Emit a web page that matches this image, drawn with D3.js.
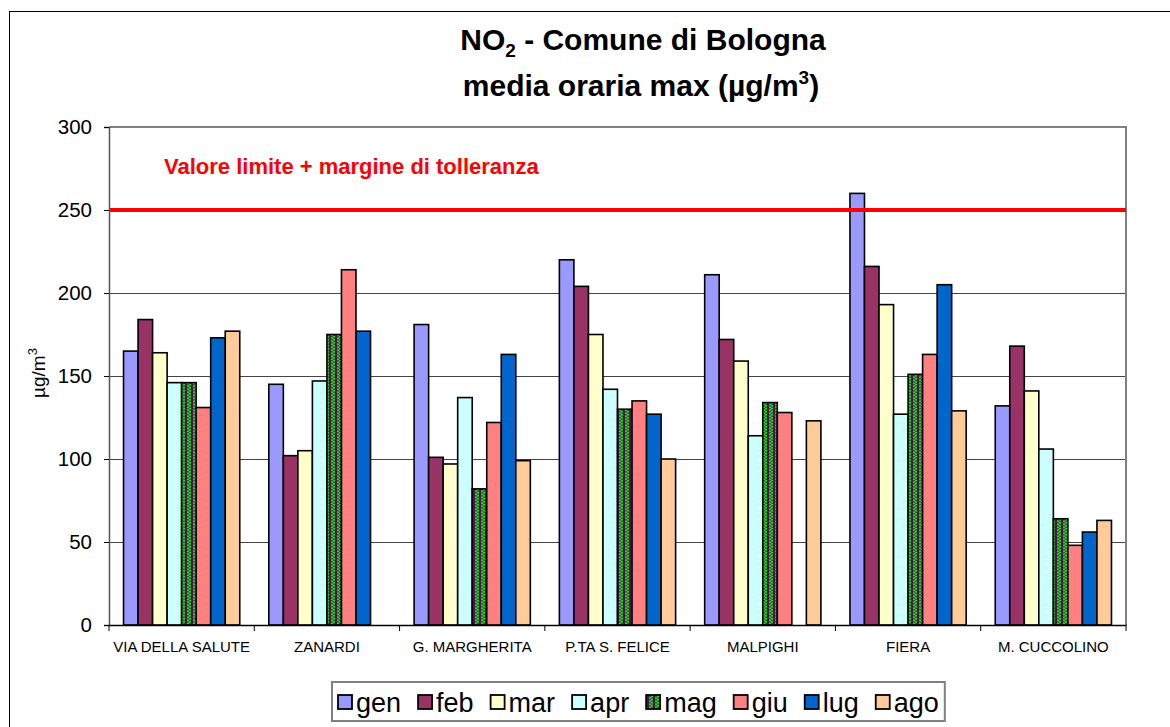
<!DOCTYPE html>
<html>
<head>
<meta charset="utf-8">
<script src="https://cdn.jsdelivr.net/npm/d3@7"></script>
<style>
  body { margin: 0; background: #fff; }
  svg text { font-family: Arial, "Liberation Sans", sans-serif; }
</style>
</head>
<body>
<div id="vis"></div>
<script>
// stations, months and their values (µg/m3), null = no data
const STATIONS = ["VIA DELLA SALUTE", "ZANARDI", "G. MARGHERITA", "P.TA S. FELICE", "MALPIGHI", "FIERA", "M. CUCCOLINO"];
const MONTHS = ["gen", "feb", "mar", "apr", "mag", "giu", "lug", "ago"];
const gen = [165, 145, 181, 220, 211, 260, 132];
const feb = [184, 102, 101, 204, 172, 216, 168];
const mar = [164, 105, 97, 175, 159, 193, 141];
const apr = [146, 147, 137, 142, 114, 127, 106];
const mag = [146, 175, 82, 130, 134, 151, 64];
const giu = [131, 214, 122, 135, 128, 163, 48];
const lug = [173, 177, 163, 127, null, 205, 56];
const ago = [177, null, 99, 100, 123, 129, 63];
const SERIES = [gen, feb, mar, apr, mag, giu, lug, ago];
const Y_TICKS = [0, 50, 100, 150, 200, 250, 300];
const LIMIT = 250;

const COLORS = ["#9999FF", "#993366", "#FFFFCC", "#CCFFFF", "url(#magPat)", "#FF8080", "#0066CC", "#FFCC99"];

const FRAME_WIDTH = 1170;
const FRAME_HEIGHT = 727;
const MARGINS = {left: 109, right: 44, top: 127, bottom: 102};

const FRAME1 = d3.select("#vis")
  .append("svg")
    .attr("width", FRAME_WIDTH)
    .attr("height", FRAME_HEIGHT);

// checkered pattern for "mag"
const defs = FRAME1.append("defs");
const pat = defs.append("pattern")
  .attr("id", "magPat")
  .attr("patternUnits", "userSpaceOnUse")
  .attr("width", 6).attr("height", 6);
pat.append("rect").attr("width", 6).attr("height", 6).attr("fill", "#660066");
pat.append("rect").attr("x", 1).attr("width", 4).attr("height", 6).attr("fill", "#00EE00");
[[1, 0], [3, 1.5], [1, 3], [3, 4.5]].forEach(([x, y]) => {
  pat.append("rect").attr("x", x).attr("y", y).attr("width", 2).attr("height", 1.5).attr("fill", "#3A5A3A");
});

// outer chart border
FRAME1.append("rect")
  .attr("x", 9.5).attr("y", 11.5)
  .attr("width", 1200).attr("height", 800)
  .attr("fill", "none").attr("stroke", "#000").attr("stroke-width", 1);

const VIS_WIDTH = FRAME_WIDTH - MARGINS.left - MARGINS.right;
const VIS_HEIGHT = FRAME_HEIGHT - MARGINS.top - MARGINS.bottom;

const X0 = d3.scaleBand().domain(STATIONS).range([MARGINS.left, MARGINS.left + VIS_WIDTH]);
const GAP = X0.bandwidth() * 2 / 10;
const X1 = d3.scaleBand().domain(MONTHS).range([GAP / 2, X0.bandwidth() - GAP / 2]);
const Y = d3.scaleLinear().domain([0, 300]).range([MARGINS.top + VIS_HEIGHT, MARGINS.top]);

// gridlines
FRAME1.append("g")
  .selectAll("line")
  .data(Y_TICKS.filter(d => d > 0 && d < 300))
  .enter().append("line")
    .attr("x1", MARGINS.left).attr("x2", MARGINS.left + VIS_WIDTH)
    .attr("y1", d => Y(d) + 0.5).attr("y2", d => Y(d) + 0.5)
    .attr("stroke", "#444").attr("stroke-width", 1);

// plot area frame (top/right grey)
FRAME1.append("path")
  .attr("d", `M${MARGINS.left},${MARGINS.top}H${MARGINS.left + VIS_WIDTH}V${MARGINS.top + VIS_HEIGHT}`)
  .attr("fill", "none").attr("stroke", "#808080").attr("stroke-width", 2);

// bars
const rows = [];
STATIONS.forEach((s, i) => {
  MONTHS.forEach((m, j) => {
    if (SERIES[j][i] != null) rows.push({s: s, m: m, v: SERIES[j][i], c: COLORS[j]});
  });
});
FRAME1.append("g")
  .selectAll("rect")
  .data(rows)
  .enter().append("rect")
    .attr("x", d => X0(d.s) + X1(d.m))
    .attr("y", d => Y(d.v))
    .attr("width", X1.bandwidth())
    .attr("height", d => Y(0) - Y(d.v))
    .attr("fill", d => d.c)
    .attr("stroke", "#000")
    .attr("stroke-width", 1.6);

// limit line
FRAME1.append("line")
  .attr("x1", MARGINS.left).attr("x2", MARGINS.left + VIS_WIDTH)
  .attr("y1", Y(LIMIT)).attr("y2", Y(LIMIT))
  .attr("stroke", "#FF0000").attr("stroke-width", 4);
FRAME1.append("text")
  .attr("x", 164).attr("y", 174)
  .attr("fill", "#FF0000").attr("font-size", 22).attr("font-weight", "bold")
  .text("Valore limite + margine di tolleranza");

// y axis
const yAxis = FRAME1.append("g")
  .attr("transform", `translate(${MARGINS.left},0)`)
  .call(d3.axisLeft(Y).tickValues(Y_TICKS).tickSize(5).tickPadding(12));
yAxis.selectAll("text").attr("font-size", 20.5).attr("fill", "#000").attr("font-family", "Arial, 'Liberation Sans', sans-serif");
yAxis.selectAll("line").attr("stroke", "#000");
yAxis.select(".domain").attr("stroke", "#555").attr("stroke-width", 1.5);

// x axis
const xAxis = FRAME1.append("g")
  .attr("transform", `translate(0,${MARGINS.top + VIS_HEIGHT})`)
  .call(d3.axisBottom(X0).tickSize(0).tickPadding(16));
xAxis.selectAll("text").attr("font-size", 15).attr("fill", "#000").attr("font-family", "Arial, 'Liberation Sans', sans-serif");
xAxis.select(".domain").attr("stroke", "#000").attr("stroke-width", 1.5);
xAxis.append("g").selectAll("line")
  .data(d3.range(STATIONS.length + 1))
  .enter().append("line")
    .attr("x1", i => MARGINS.left + i * X0.step()).attr("x2", i => MARGINS.left + i * X0.step())
    .attr("y1", 0).attr("y2", 6)
    .attr("stroke", "#000");

// y axis title
const yt = FRAME1.append("text")
  .attr("transform", "translate(45,373) rotate(-90)")
  .attr("text-anchor", "middle")
  .attr("font-size", 19);
yt.append("tspan").text("µg/m");
yt.append("tspan").attr("font-size", 13).attr("dy", -8).text("3");

// title
const t1 = FRAME1.append("text")
  .attr("x", 643).attr("y", 50)
  .attr("text-anchor", "middle")
  .attr("font-size", 30).attr("font-weight", "bold");
t1.append("tspan").text("NO");
t1.append("tspan").attr("font-size", 19).attr("dy", 7).text("2");
t1.append("tspan").attr("dy", -7).text(" - Comune di Bologna");
const t2 = FRAME1.append("text")
  .attr("x", 641).attr("y", 96)
  .attr("text-anchor", "middle")
  .attr("font-size", 30).attr("font-weight", "bold");
t2.append("tspan").text("media oraria max  (µg/m");
t2.append("tspan").attr("font-size", 19).attr("dy", -12).text("3");
t2.append("tspan").attr("dy", 12).text(")");

// legend
const legend = FRAME1.append("g");
const legBox = legend.append("rect")
  .attr("y", 682).attr("height", 39)
  .attr("fill", "#fff").attr("stroke", "#808080").attr("stroke-width", 2);
let lx = 338;
MONTHS.forEach((m, j) => {
  legend.append("rect")
    .attr("x", lx).attr("y", 695).attr("width", 14).attr("height", 14)
    .attr("fill", COLORS[j]).attr("stroke", "#000").attr("stroke-width", 1.8);
  const tx = legend.append("text")
    .attr("x", lx + 18).attr("y", 712)
    .attr("font-size", 27)
    .text(m);
  lx += 18 + tx.node().getComputedTextLength() + 17;
});
legBox.attr("x", 332).attr("width", lx - 17 + 6 - 332);
</script>
</body>
</html>
